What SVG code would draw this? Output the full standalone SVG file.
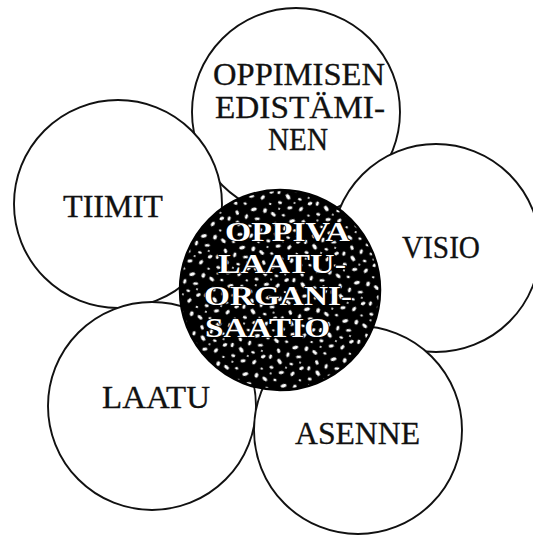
<svg xmlns="http://www.w3.org/2000/svg" width="533" height="535" viewBox="0 0 533 535">
  <style>
    .petal { fill: #ffffff; stroke: #111111; stroke-width: 1.9; }
    .plabel { font-family: "Liberation Serif", "DejaVu Serif", serif; font-size: 31px; fill: #111111; stroke: #111111; stroke-width: 0.3; }
    .core { fill: url(#speckle); stroke: #000000; stroke-width: 2.5; }
    .clabel { font-family: "Liberation Serif", "DejaVu Serif", serif; font-size: 27px; font-weight: bold; fill: #ffffff; stroke: #000000; stroke-width: 1.4; paint-order: stroke; }
  </style>
  <defs>
    <pattern id="speckle" width="40" height="40" patternUnits="userSpaceOnUse" patternTransform="rotate(17)">
      <rect width="40" height="40" fill="#000000"/>
      <g fill="#ffffff">
        <ellipse cx="4" cy="5" rx="2.8" ry="1.6" transform="rotate(20 4 5)"/>
        <ellipse cx="14" cy="3" rx="1.6" ry="1.2"/>
        <ellipse cx="24" cy="6" rx="3" ry="1.7" transform="rotate(-30 24 6)"/>
        <ellipse cx="35" cy="4" rx="1.8" ry="2.4"/>
        <ellipse cx="9" cy="14" rx="2.4" ry="1.5" transform="rotate(50 9 14)"/>
        <ellipse cx="19" cy="15" rx="1.5" ry="2.6"/>
        <ellipse cx="30" cy="14" rx="2.6" ry="1.4" transform="rotate(-15 30 14)"/>
        <ellipse cx="3" cy="22" rx="1.5" ry="2.2"/>
        <ellipse cx="13" cy="24" rx="3" ry="1.8" transform="rotate(35 13 24)"/>
        <ellipse cx="25" cy="23" rx="1.8" ry="1.3"/>
        <ellipse cx="36" cy="24" rx="2.4" ry="1.6" transform="rotate(-40 36 24)"/>
        <ellipse cx="7" cy="32" rx="2" ry="1.4"/>
        <ellipse cx="18" cy="34" rx="2.6" ry="1.5" transform="rotate(-20 18 34)"/>
        <ellipse cx="29" cy="32" rx="1.6" ry="2.5" transform="rotate(25 29 32)"/>
        <ellipse cx="38" cy="36" rx="1.3" ry="1.1"/>
        <circle cx="21" cy="28" r="0.9"/>
        <circle cx="33" cy="19" r="0.9"/>
        <circle cx="8" cy="38" r="1"/>
      </g>
    </pattern>
  </defs>

  <g id="petal-oppimisen">
    <circle class="petal" cx="296" cy="112" r="104"/>
    <text class="plabel" x="213" y="85" textLength="172" lengthAdjust="spacingAndGlyphs" font-size="28">OPPIMISEN</text>
    <text class="plabel" x="215" y="118" textLength="170" lengthAdjust="spacingAndGlyphs" font-size="28">EDISTÄMI-</text>
    <text class="plabel" x="268" y="150" textLength="60" lengthAdjust="spacingAndGlyphs" font-size="28">NEN</text>
  </g>
  <g id="petal-tiimit">
    <circle class="petal" cx="118" cy="204" r="104"/>
    <text class="plabel" x="63" y="217" textLength="100" lengthAdjust="spacingAndGlyphs">TIIMIT</text>
  </g>
  <g id="petal-visio">
    <circle class="petal" cx="436" cy="248" r="104"/>
    <text class="plabel" x="402" y="258" textLength="78" lengthAdjust="spacingAndGlyphs">VISIO</text>
  </g>
  <g id="petal-laatu">
    <circle class="petal" cx="152" cy="406" r="104"/>
    <text class="plabel" x="102" y="408" textLength="108" lengthAdjust="spacingAndGlyphs">LAATU</text>
  </g>
  <g id="petal-asenne">
    <circle class="petal" cx="358" cy="430" r="104"/>
    <text class="plabel" x="295" y="444" textLength="125" lengthAdjust="spacingAndGlyphs">ASENNE</text>
  </g>

  <g id="connectors"></g>

  <g id="center-oppiva">
    <circle class="core" cx="280" cy="290" r="100"/>
    <text class="clabel" x="225" y="241" textLength="125" lengthAdjust="spacingAndGlyphs">OPPIVA</text>
    <text class="clabel" x="218" y="273" textLength="128" lengthAdjust="spacingAndGlyphs">LAATU-</text>
    <text class="clabel" x="204" y="305" textLength="148" lengthAdjust="spacingAndGlyphs">ORGANI-</text>
    <text class="clabel" x="205" y="337" textLength="125" lengthAdjust="spacingAndGlyphs">SAATIO</text>
  </g>
</svg>
